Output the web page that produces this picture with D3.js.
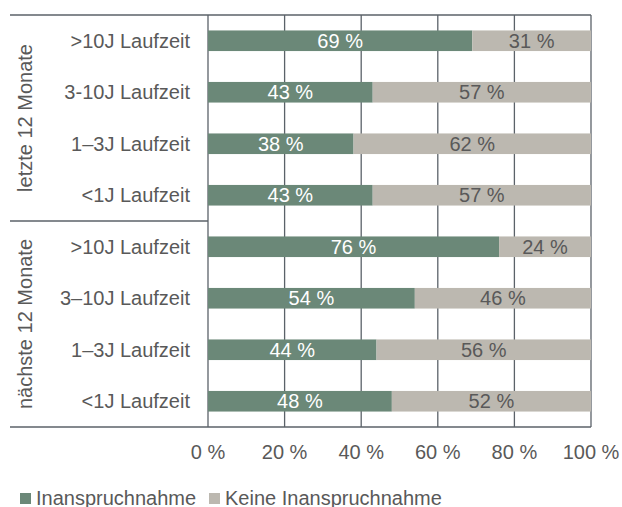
<!DOCTYPE html>
<html>
<head>
<meta charset="utf-8">
<script src="https://cdn.jsdelivr.net/npm/d3@7"></script>
<style>
  body { margin: 0; background: #fff; }
  text { font-family: "Liberation Sans", Arial, sans-serif; }
</style>
</head>
<body>
<script>
var groups = ['letzte 12 Monate', 'nächste 12 Monate'];
var categories = ['>10J Laufzeit', '3-10J Laufzeit', '1–3J Laufzeit', '<1J Laufzeit',
                  '>10J Laufzeit', '3–10J Laufzeit', '1–3J Laufzeit', '<1J Laufzeit'];
var inanspruch = [69, 43, 38, 43, 76, 54, 44, 48];
var keine = [31, 57, 62, 57, 24, 46, 56, 52];
var ticks = [0, 20, 40, 60, 80, 100];
var seriesNames = ['Inanspruchnahme', 'Keine Inanspruchnahme'];
var colors = ['#6b8878', '#bcb8b0'];

var width = 622, height = 507;
var pLeft = 208, pRight = 591, pTop = 15, pBottom = 427;
var lineColor = '#5b6269', textColor = '#595959';
var fs = 20;

var svg = d3.select('body').append('svg').attr('width', width).attr('height', height);

var x = d3.scaleLinear().domain([0, 100]).range([pLeft, pRight]);
var y = d3.scaleBand().domain(d3.range(categories.length)).range([pTop, pBottom]).paddingInner(0.6).paddingOuter(0.3);

// gitterlinien
svg.selectAll('line.grid')
    .data(ticks)
    .enter().append('line')
    .attr('class', 'grid')
    .attr('x1', function(d){ return x(d); })
    .attr('x2', function(d){ return x(d); })
    .attr('y1', pTop).attr('y2', pBottom)
    .attr('stroke', lineColor).attr('stroke-width', 1.3);

// balken
var rows = categories.map(function(c, i){ return {i: i, a: inanspruch[i], b: keine[i]}; });

svg.selectAll('rect.a')
    .data(rows)
    .enter().append('rect')
    .attr('class', 'a')
    .attr('x', x(0))
    .attr('y', function(d){ return y(d.i); })
    .attr('width', function(d){ return x(d.a) - x(0); })
    .attr('height', y.bandwidth())
    .attr('fill', colors[0]);

svg.selectAll('rect.b')
    .data(rows)
    .enter().append('rect')
    .attr('class', 'b')
    .attr('x', function(d){ return x(d.a); })
    .attr('y', function(d){ return y(d.i); })
    .attr('width', function(d){ return x(d.a + d.b) - x(d.a); })
    .attr('height', y.bandwidth())
    .attr('fill', colors[1]);

svg.selectAll('text.la')
    .data(rows)
    .enter().append('text')
    .attr('class', 'la')
    .attr('x', function(d){ return x(d.a / 2); })
    .attr('y', function(d){ return y(d.i) + y.bandwidth() / 2; })
    .attr('dy', '0.36em')
    .attr('text-anchor', 'middle')
    .attr('font-size', fs)
    .attr('fill', '#fff')
    .text(function(d){ return d.a + ' %'; });

svg.selectAll('text.lb')
    .data(rows)
    .enter().append('text')
    .attr('class', 'lb')
    .attr('x', function(d){ return x(d.a + d.b / 2); })
    .attr('y', function(d){ return y(d.i) + y.bandwidth() / 2; })
    .attr('dy', '0.36em')
    .attr('text-anchor', 'middle')
    .attr('font-size', fs)
    .attr('fill', textColor)
    .text(function(d){ return d.b + ' %'; });

// kategorien
svg.selectAll('text.cat')
    .data(categories)
    .enter().append('text')
    .attr('class', 'cat')
    .attr('x', 190)
    .attr('y', function(d, i){ return y(i) + y.bandwidth() / 2; })
    .attr('dy', '0.36em')
    .attr('text-anchor', 'end')
    .attr('font-size', fs)
    .attr('fill', textColor)
    .text(function(d){ return d; });

// gruppen
var mid = (pTop + pBottom) / 2;
svg.selectAll('text.grp')
    .data(groups)
    .enter().append('text')
    .attr('class', 'grp')
    .attr('transform', function(d, i){
        var cy = i === 0 ? (pTop + mid) / 2 : (mid + pBottom) / 2;
        return 'translate(25,' + cy + ') rotate(-90)';
    })
    .attr('dy', '0.36em')
    .attr('text-anchor', 'middle')
    .attr('font-size', fs)
    .attr('fill', textColor)
    .text(function(d){ return d; });

// rahmenlinien
var hLines = [[10, pRight, pTop], [10, pLeft, mid], [10, pRight, pBottom]];
svg.selectAll('line.h')
    .data(hLines)
    .enter().append('line')
    .attr('class', 'h')
    .attr('x1', function(d){ return d[0]; })
    .attr('x2', function(d){ return d[1]; })
    .attr('y1', function(d){ return d[2]; })
    .attr('y2', function(d){ return d[2]; })
    .attr('stroke', lineColor).attr('stroke-width', 1.5);

// x-achse
svg.selectAll('text.tick')
    .data(ticks)
    .enter().append('text')
    .attr('class', 'tick')
    .attr('x', function(d){ return x(d); })
    .attr('y', 452)
    .attr('dy', '0.36em')
    .attr('text-anchor', 'middle')
    .attr('font-size', fs)
    .attr('fill', textColor)
    .text(function(d){ return d + ' %'; });

// legende
var legX = [20, 209];
svg.selectAll('rect.leg')
    .data(seriesNames)
    .enter().append('rect')
    .attr('class', 'leg')
    .attr('x', function(d, i){ return legX[i]; })
    .attr('y', 493)
    .attr('width', 11).attr('height', 11)
    .attr('fill', function(d, i){ return colors[i]; });

svg.selectAll('text.leg')
    .data(seriesNames)
    .enter().append('text')
    .attr('class', 'leg')
    .attr('x', function(d, i){ return legX[i] + 16; })
    .attr('y', 498)
    .attr('dy', '0.36em')
    .attr('font-size', fs)
    .attr('fill', textColor)
    .text(function(d){ return d; });
</script>
</body>
</html>
